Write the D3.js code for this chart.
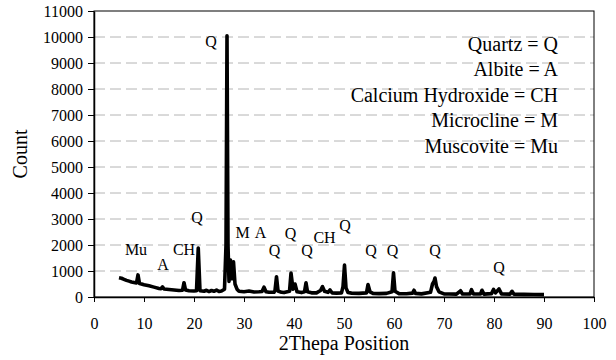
<!DOCTYPE html>
<html>
<head>
<meta charset="utf-8">
<script src="https://cdn.jsdelivr.net/npm/d3@7"></script>
<style>
  body { margin: 0; background: #fff; }
  .axis path, .axis line { stroke: #000; }
  .grid line { stroke: #b4b4b4; stroke-dasharray: 11,5; }
</style>
</head>
<body>
<script>
// XRD pattern: [2theta, count]
var pattern = [
  [5.0, 740], [5.5, 720], [6.0, 680], [6.5, 640], [7.0, 610], [7.5, 580], [8.0, 560],
  [8.5, 540], [8.8, 850], [9.1, 520], [9.5, 500], [10, 470], [11, 430], [12, 380],
  [13, 330], [13.4, 320], [13.7, 390], [14.0, 310], [15, 290], [16, 270], [17, 250],
  [17.7, 260], [18.0, 550], [18.3, 270], [19, 240], [20, 230], [20.5, 240], [20.85, 1880],
  [21.2, 240], [22, 220], [22.5, 260], [23, 210], [23.5, 250], [24, 220], [24.5, 270],
  [25, 210], [25.5, 230], [26.1, 300], [26.4, 2000], [26.6, 10050], [26.8, 2000],
  [27.0, 600], [27.3, 1420], [27.6, 700], [27.9, 1350], [28.2, 500], [28.6, 300],
  [29, 220], [30, 200], [31, 230], [32, 190], [33, 200], [33.6, 210], [34.0, 380],
  [34.4, 200], [35, 180], [36, 180], [36.2, 250], [36.5, 780], [36.8, 230], [37.5, 180],
  [38, 170], [39.1, 220], [39.4, 920], [39.8, 300], [40.2, 500], [40.6, 200], [41.5, 170],
  [42.1, 200], [42.4, 550], [42.7, 200], [43.5, 160], [44.5, 160], [45.3, 250], [45.7, 400],
  [46.1, 220], [46.8, 180], [47.2, 270], [47.6, 160], [48.5, 150], [49.5, 160], [49.8, 400],
  [50.1, 1230], [50.4, 350], [50.8, 170], [51.5, 150], [53, 140], [54.5, 160], [54.8, 480],
  [55.2, 200], [55.8, 140], [57, 130], [58.5, 140], [59.6, 200], [59.9, 930], [60.2, 220],
  [61, 130], [62.5, 125], [63.7, 150], [64.0, 260], [64.3, 140], [65.5, 120], [67.3, 180],
  [67.7, 500], [68.0, 600], [68.2, 730], [68.5, 400], [69, 200], [70, 120], [71, 115],
  [72.5, 110], [73.3, 240], [73.7, 115], [75.2, 120], [75.5, 280], [75.9, 115], [77.3, 115],
  [77.6, 260], [78, 110], [79.5, 130], [79.9, 290], [80.3, 160], [81.0, 310], [81.5, 120],
  [83.2, 110], [83.6, 220], [84.0, 105], [86, 100], [88, 95], [90, 90]
];

// phase labels: [text, 2theta, count]
var peakLabels = [
  ["Mu", 8.4, 1620], ["A", 13.8, 1020], ["CH", 18.0, 1620], ["Q", 20.6, 2850],
  ["Q", 23.4, 9630], ["M", 29.7, 2260], ["A", 33.3, 2270], ["Q", 36.1, 1580],
  ["Q", 39.3, 2220], ["Q", 42.6, 1580], ["CH", 46.1, 2090], ["Q", 50.2, 2550],
  ["Q", 55.4, 1580], ["Q", 59.7, 1580], ["Q", 68.2, 1580], ["Q", 81.0, 930]
];

var legendItems = ["Quartz = Q", "Albite = A", "Calcium Hydroxide = CH", "Microcline = M", "Muscovite = Mu"];

var xTicks = d3.range(0, 101, 10);
var yTicks = d3.range(0, 11001, 1000);

var serif = '"Liberation Serif", "Times New Roman", Times, serif';

var margin = {top: 11, right: 22, bottom: 63, left: 94},
    width = 616 - margin.left - margin.right,
    height = 360 - margin.top - margin.bottom;

var svg = d3.select("body").append("svg")
  .attr("width", 616)
  .attr("height", 360)
  .append("g")
  .attr("transform", "translate(" + margin.left + "," + margin.top + ")");

var x = d3.scaleLinear().domain([0, 100]).range([0, width]);
var y = d3.scaleLinear().domain([0, 11000]).range([height, 0]);

// dashed gridlines
svg.append("g")
  .attr("class", "grid")
  .selectAll("line")
  .data(yTicks.filter(function(d) { return d > 0 && d < 11000; }))
  .enter().append("line")
  .attr("x1", 0)
  .attr("x2", width)
  .attr("y1", function(d) { return y(d); })
  .attr("y2", function(d) { return y(d); });

// plot frame
svg.append("rect")
  .attr("width", width)
  .attr("height", height)
  .attr("fill", "none")
  .attr("stroke", "#000")
  .attr("stroke-width", 1);

// legend text
svg.selectAll(".legend")
  .data(legendItems)
  .enter().append("text")
  .attr("class", "legend")
  .attr("x", 464)
  .attr("y", function(d, i) { return 40 + i * 25.4; })
  .style("text-anchor", "end")
  .style("font-family", serif)
  .style("font-size", "20px")
  .text(function(d) { return d; });

// the pattern
var line = d3.line()
  .x(function(d) { return x(d[0]); })
  .y(function(d) { return y(d[1]); });

svg.append("path")
  .datum(pattern)
  .attr("d", line)
  .attr("fill", "none")
  .attr("stroke", "#000")
  .attr("stroke-width", 3.6)
  .attr("stroke-linejoin", "round");

// phase labels
svg.selectAll(".peak")
  .data(peakLabels)
  .enter().append("text")
  .attr("class", "peak")
  .attr("x", function(d) { return x(d[1]); })
  .attr("y", function(d) { return y(d[2]); })
  .style("text-anchor", "middle")
  .style("font-family", serif)
  .style("font-size", "16px")
  .text(function(d) { return d[0]; });

// x-axis
var xAxis = svg.append("g")
  .attr("class", "x axis")
  .attr("transform", "translate(0," + height + ")")
  .call(d3.axisBottom(x).tickValues(xTicks).tickSize(5).tickPadding(16).tickSizeOuter(0));
xAxis.selectAll("text").style("font-family", serif).style("font-size", "16px");
xAxis.select(".domain").attr("stroke-width", 1.5);

// y-axis
var yAxis = svg.append("g")
  .attr("class", "y axis")
  .call(d3.axisLeft(y).tickValues(yTicks).tickFormat(d3.format("d"))
    .tickSize(6).tickPadding(5).tickSizeOuter(0));
yAxis.selectAll("text").style("font-family", serif).style("font-size", "16px");
yAxis.select(".domain").attr("stroke-width", 1.5);

// axis titles
svg.append("text")
  .attr("x", width / 2)
  .attr("y", height + 53)
  .style("text-anchor", "middle")
  .style("font-family", serif)
  .style("font-size", "20px")
  .text("2Thepa Position");

svg.append("text")
  .attr("transform", "translate(" + (27 - margin.left) + "," + (height / 2) + ") rotate(-90)")
  .style("text-anchor", "middle")
  .style("font-family", serif)
  .style("font-size", "20px")
  .text("Count");
</script>
</body>
</html>
